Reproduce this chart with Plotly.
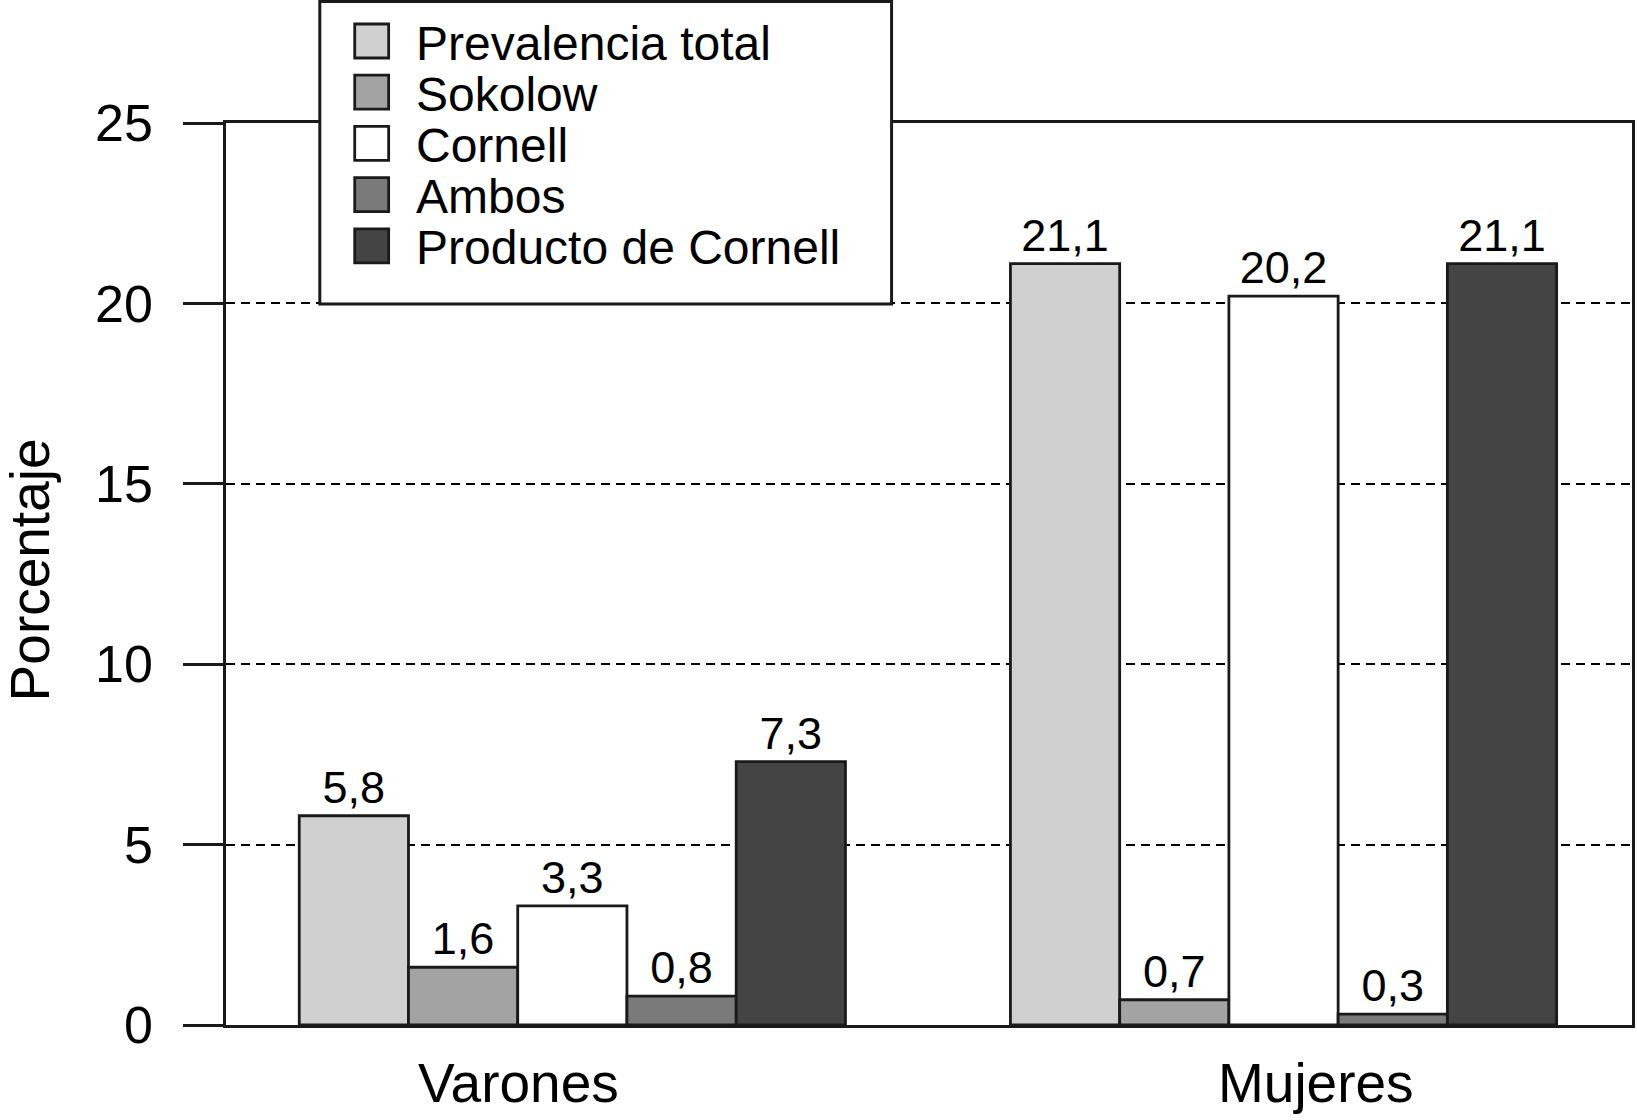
import plotly.graph_objects as go

categories = ["Varones", "Mujeres"]
series_names = ["Prevalencia total", "Sokolow", "Cornell", "Ambos", "Producto de Cornell"]
prevalencia_total = [5.8, 21.1]
sokolow = [1.6, 0.7]
cornell = [3.3, 20.2]
ambos = [0.8, 0.3]
producto_cornell = [7.3, 21.1]
series_values = [prevalencia_total, sokolow, cornell, ambos, producto_cornell]
series_colors = ["#d0d0d0", "#a3a3a3", "#ffffff", "#7a7a7a", "#444444"]
y_ticks = [0, 5, 10, 15, 20, 25]
category_label_pos = [-0.076, 1.045]

W, H = 1637, 1120
ML, MR, MT, MB = 226, 2, 123, 95
PW, PH = W - ML - MR, H - MT - MB
FONT = "Liberation Sans, Arial, Helvetica, sans-serif"
EDGE = "#1a1a1a"

def px_x(p):
    return (p - ML) / PW

def px_y(p):
    return (H - MB - p) / PH

fig = go.Figure()
for name, vals, col in zip(series_names, series_values, series_colors):
    fig.add_trace(go.Bar(
        x=categories, y=vals, name=name,
        marker=dict(color=col, line=dict(color=EDGE, width=2.8)),
        texttemplate="%{y:.1f}", textposition="outside",
        textfont=dict(size=45, color="black", family=FONT),
        cliponaxis=False, showlegend=False,
    ))

shapes = []
annotations = []

# manual legend box
lx0, lx1, ly0, ly1 = 320, 893, 1.5, 304
shapes.append(dict(type="rect", xref="paper", yref="paper",
                   x0=px_x(lx0), x1=px_x(lx1), y0=px_y(ly1), y1=px_y(ly0),
                   fillcolor="white", line=dict(color=EDGE, width=3), layer="above"))
row0, step = 41, 51.2
for i, (name, col) in enumerate(zip(series_names, series_colors)):
    cy = row0 + i * step
    shapes.append(dict(type="rect", xref="paper", yref="paper",
                       x0=px_x(355), x1=px_x(389), y0=px_y(cy + 17), y1=px_y(cy - 17),
                       fillcolor=col, line=dict(color=EDGE, width=2.8), layer="above"))
    annotations.append(dict(x=px_x(414), y=px_y(cy + 2), xref="paper", yref="paper",
                            text=name, showarrow=False, xanchor="left", yanchor="middle",
                            font=dict(size=48, color="black", family=FONT)))

# category labels
for cat, pos in zip(categories, category_label_pos):
    annotations.append(dict(x=pos, y=0, xref="x", yref="paper", yshift=-58,
                            text=cat, showarrow=False, xanchor="center", yanchor="middle",
                            font=dict(size=55, color="black", family=FONT)))

# y-axis title
annotations.append(dict(x=0, y=0.504, xref="paper", yref="paper", xshift=-196,
                        text="Porcentaje", textangle=-90, showarrow=False,
                        xanchor="center", yanchor="middle",
                        font=dict(size=55, color="black", family=FONT)))

fig.update_layout(
    width=W, height=H,
    margin=dict(l=ML, r=MR, t=MT, b=MB, pad=0),
    paper_bgcolor="white", plot_bgcolor="white",
    barmode="group", bargap=0.232, bargroupgap=0,
    separators=",.",
    font=dict(family=FONT, color="black"),
    shapes=shapes, annotations=annotations,
    showlegend=False,
)
fig.update_xaxes(
    range=[-0.487, 1.49], showticklabels=False, ticks="",
    showline=True, linecolor=EDGE, linewidth=3, mirror=True,
    showgrid=False, zeroline=False,
)
fig.update_yaxes(
    range=[0, 25], tickvals=y_ticks, ticks="outside", ticklen=40, tickwidth=3,
    tickcolor=EDGE, ticklabelstandoff=20,
    tickfont=dict(size=52, color="black", family=FONT),
    showline=True, linecolor=EDGE, linewidth=2.5, mirror=True,
    showgrid=True, gridcolor="black", gridwidth=1.5, griddash="9px,6px",
    zeroline=False,
)

fig.write_html("out.html", config={"displayModeBar": False},
               post_script="document.body.style.margin='0';document.body.style.overflow='hidden';")
